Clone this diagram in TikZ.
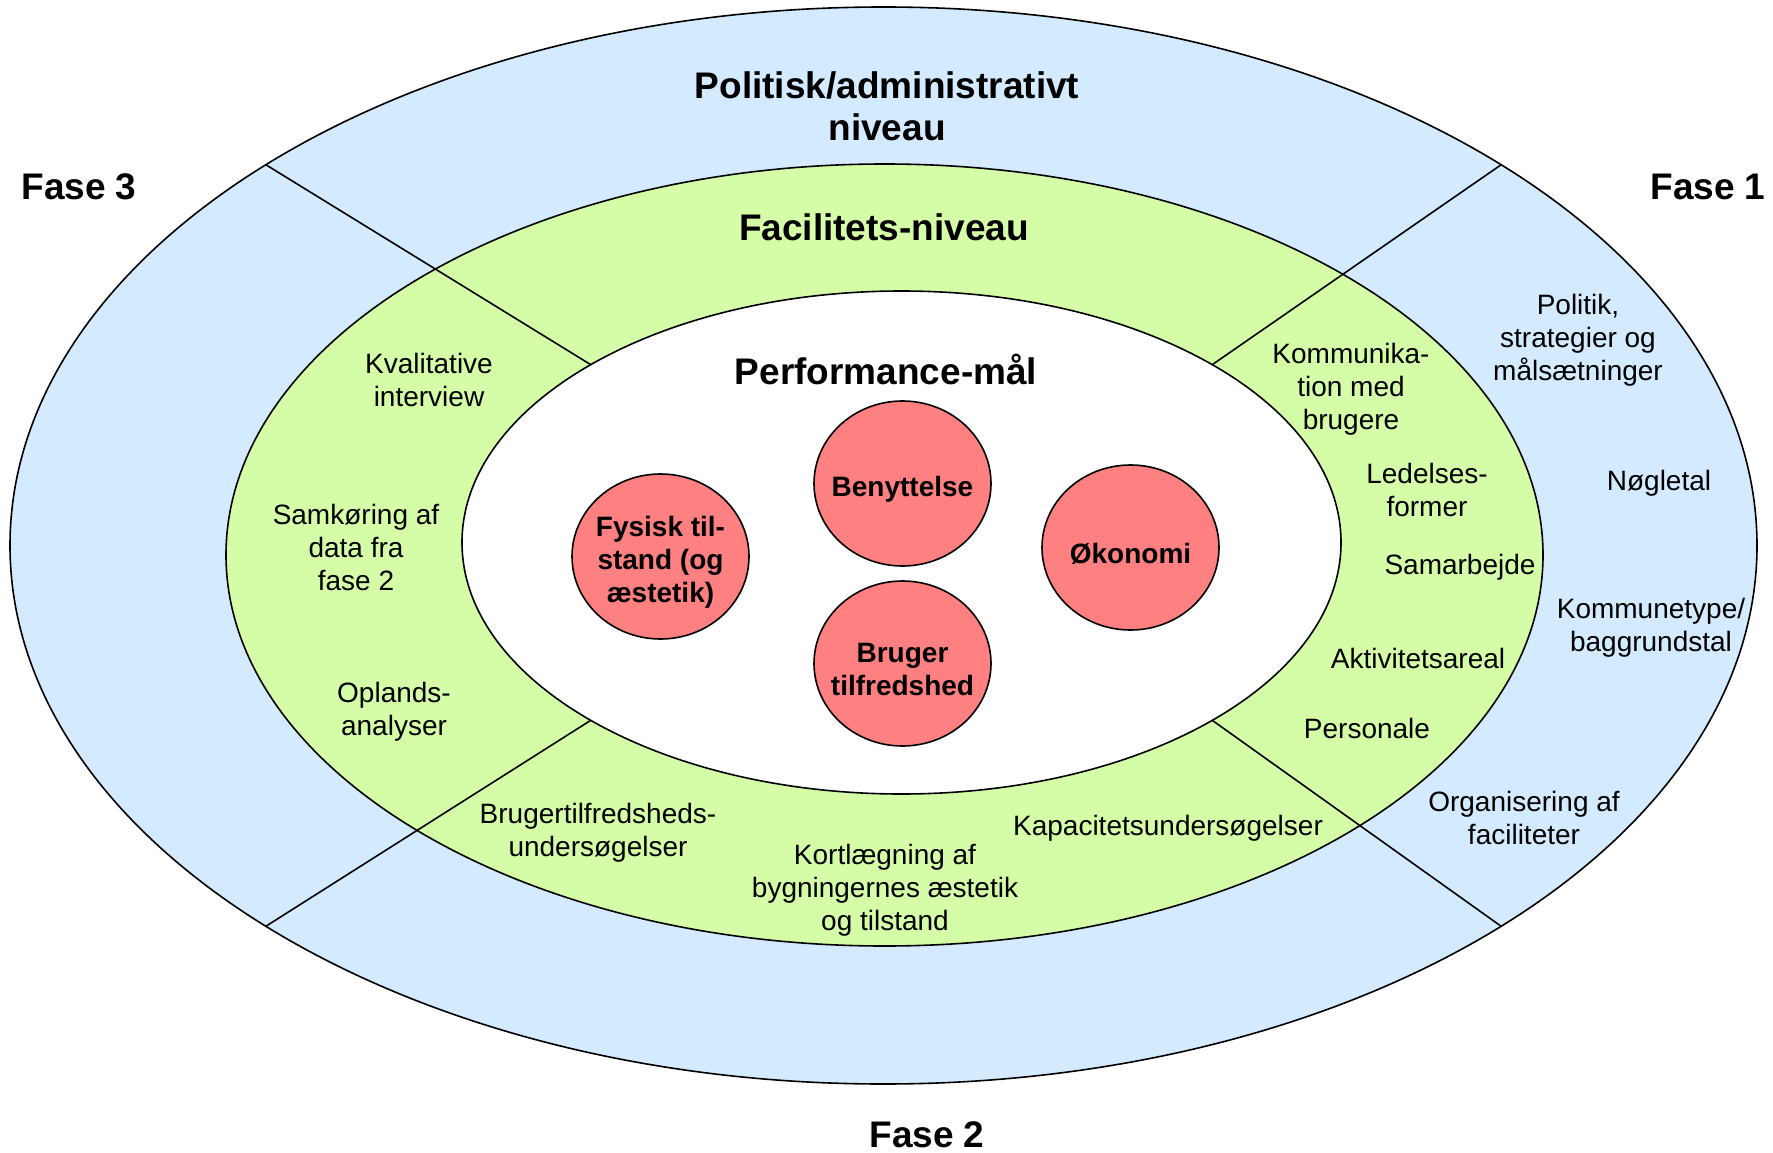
\documentclass[tikz,border=0pt]{standalone}
\usepackage{fontspec}
\setmainfont{Liberation Sans}
\usetikzlibrary{shapes.geometric}
\definecolor{polblue}{RGB}{212,234,255}
\definecolor{facgreen}{RGB}{213,252,166}
\definecolor{goalred}{RGB}{255,128,128}
\begin{document}
\begin{tikzpicture}[x=1pt,y=-1pt,
    ring/.style={ellipse,draw,line width=1.6pt,inner sep=0pt,outer sep=0pt},
    goal/.style={ellipse,draw,line width=1.6pt,fill=goalred,inner sep=0pt,
      minimum width=177pt,minimum height=165pt},
    goaltxt/.style={align=center,yshift=-6pt,
      font=\fontsize{28}{33}\selectfont\bfseries},
    head/.style={align=center,font=\fontsize{37}{42}\selectfont\bfseries},
    item/.style={align=center,yshift=-1.5pt,font=\fontsize{28}{33}\selectfont},
    divider/.style={line width=1.6pt}]
  \useasboundingbox (0,0) rectangle (1773,1153);
  % the three levels
  \node[ring,fill=polblue,minimum width=1747pt,minimum height=1077pt]
    (polring) at (883.5,545.5) {};
  \node[ring,fill=facgreen,minimum width=1317pt,minimum height=782pt]
    (facring) at (884.5,555) {};
  \node[ring,fill=white,minimum width=879pt,minimum height=503pt]
    (perfring) at (901.5,542.5) {};
  % phase borders
  \path (polring.center) +(225:873.5 and 538.5) coordinate (outul)
    +(315:873.5 and 538.5) coordinate (outur)
    +(135:873.5 and 538.5) coordinate (outll)
    +(45:873.5 and 538.5) coordinate (outlr);
  \path (perfring.center) +(225:439.5 and 251.5) coordinate (inul)
    +(315:439.5 and 251.5) coordinate (inur)
    +(135:439.5 and 251.5) coordinate (inll)
    +(45:439.5 and 251.5) coordinate (inlr);
  \draw[divider] (outul) -- (inul);
  \draw[divider] (outur) -- (inur);
  \draw[divider] (outll) -- (inll);
  \draw[divider] (outlr) -- (inlr);
  % headings
  \node[head] (polit) at (887,106) {Politisk/administrativt\\niveau};
  \node[head] (facil) at (884,227) {Facilitets-niveau};
  \node[head] (perf) at (886,369) {Performance-mål};
  \node[head] (fase3) at (79,187) {Fase 3};
  \node[head] (fase1) at (1708,187) {Fase 1};
  \node[head,inner sep=1pt] (fase2) at (927,1135) {Fase 2};
  % performance goals
  \node[goal] (fysisk) at (660.5,556.5) {};
  \node[goal] (benyt) at (902.5,483.5) {};
  \node[goal] (oekon) at (1130.5,547.5) {};
  \node[goal] (brugtilf) at (902.5,663.5) {};
  \node[goaltxt] (fysisktxt) at (fysisk) {Fysisk til-\\stand (og\\æstetik)};
  \node[goaltxt] (benyttxt) at (benyt) {Benyttelse};
  \node[goaltxt] (oekontxt) at (oekon) {Økonomi};
  \node[goaltxt] (brugtilftxt) at (brugtilf) {Bruger\\tilfredshed};
  % fase 3
  \node[item] (kval) at (429,378) {Kvalitative\\interview};
  \node[item] (samk) at (356,546) {Samkøring af\\data fra\\fase 2};
  \node[item] (opl) at (394,710) {Oplands-\\analyser};
  % fase 2
  \node[item] (brugus) at (598,831) {Brugertilfredsheds-\\undersøgelser};
  \node[item] (kort) at (885,889) {Kortlægning af\\bygningernes æstetik\\og tilstand};
  \node[item] (kap) at (1168,827) {Kapacitetsundersøgelser};
  % fase 1
  \node[item] (pers) at (1367,727) {Personale};
  \node[item] (akt) at (1418,657) {Aktivitetsareal};
  \node[item] (samarb) at (1460,566) {Samarbejde};
  \node[item] (led) at (1427,488) {Ledelses-\\former};
  \node[item] (komm) at (1351,388) {Kommunika-\\tion med\\brugere};
  \node[item] (polstr) at (1578,339) {Politik,\\strategier og\\målsætninger};
  \node[item] (noegle) at (1659,482) {Nøgletal};
  \node[item] (kommtype) at (1651,626) {Kommunetype/\\baggrundstal};
  \node[item] (org) at (1524,816) {Organisering af\\faciliteter};
\end{tikzpicture}
\end{document}
